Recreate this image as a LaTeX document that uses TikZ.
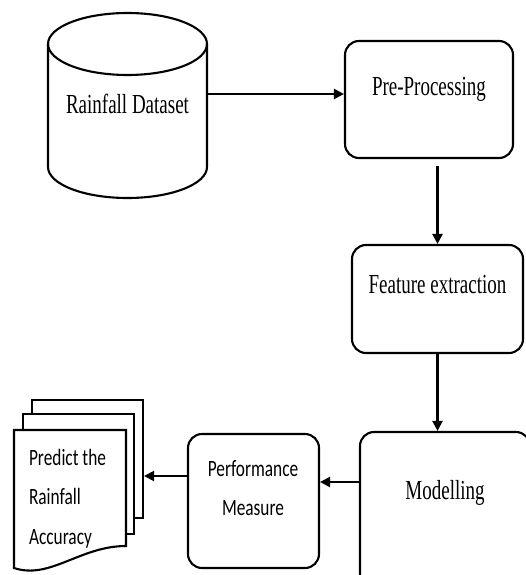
\documentclass[tikz,border=0pt]{standalone}
\usepackage{fontspec}
\newfontfamily\tnr{Liberation Serif}
\newfontfamily\calib{Carlito}
\newcommand\serifup[1]{\scalebox{1}[1.45]{#1}}
\newcommand\sansup[1]{\scalebox{1}[1.35]{#1}}
\usetikzlibrary{arrows.meta}

\begin{document}
\begin{tikzpicture}[x=1pt, y=-1pt, line width=2.1pt,
    box/.style={draw, rounded corners=14pt, fill=white, inner sep=0pt},
    page/.style={draw, fill=white, inner sep=0pt},
    lbl/.style={font=\tnr\fontsize{19}{23}\selectfont, inner sep=0pt},
    slbl/.style={font=\calib\fontsize{17.3}{39.5}\selectfont, inner sep=0pt},
    arr/.style={-{Triangle[length=10pt,width=10pt]}}]
  \useasboundingbox (0,0) rectangle (526,575);
  % data store
  \draw (127.5,44) ellipse[x radius=79.5, y radius=31];
  \draw (48,44) -- (48,167) arc[start angle=180, end angle=0, x radius=79.5, y radius=31]
    -- (207,44);
  \node[lbl] (data) at (127.5,104) {\serifup{Rainfall Dataset}};
  \coordinate (data-r) at (207,94);
  % right column
  \node[box, minimum width=168pt, minimum height=117pt] (pre) at (429,99.5) {};
  \node[lbl] (pre-t) at ([yshift=-49pt]pre.north) {\serifup{Pre-Processing}};
  \node[box, minimum width=171pt, minimum height=108pt] (feat) at (437.5,299) {};
  \node[lbl] (feat-t) at ([yshift=-41pt]feat.north) {\serifup{Feature extraction}};
  \node[box, minimum width=170pt, minimum height=156pt] (model) at (445,510) {};
  \node[lbl] (model-t) at ([yshift=-62pt]model.north) {\serifup{Modelling}};
  % bottom row
  \node[box, minimum width=131pt, minimum height=134pt] (perf) at (253.5,501) {};
  \node[slbl, align=center, anchor=north] (perf-t) at (253,459)
    {\sansup{Performance}\\\sansup{Measure}};
  \node[page, minimum width=111pt, minimum height=118pt] (back) at (87.5,459) {};
  \node[page, minimum width=111pt, minimum height=120pt] (mid) at (78.5,474) {};
  \draw[fill=white] (14,569) -- (14,430) -- (126,430) -- (126,546)
    .. controls (80,546) and (50,580) .. (14,568) -- cycle;
  \node[slbl, align=left, anchor=north west] (out-t) at (28,448)
    {\sansup{Predict the}\\\sansup{Rainfall}\\\sansup{Accuracy}};
  % connectors
  \path[arr]
  (data-r) edge ([yshift=5.5pt]pre.west)
  (pre.south -| feat.north) edge[shorten <=7pt] (feat.north)
  (feat.south) edge (feat.south |- model.north)
  ([yshift=28pt]model.west) edge ([yshift=19pt]perf.east)
  ([yshift=25pt]perf.west) edge ([yshift=-17pt]back.east);
\end{tikzpicture}
\end{document}
